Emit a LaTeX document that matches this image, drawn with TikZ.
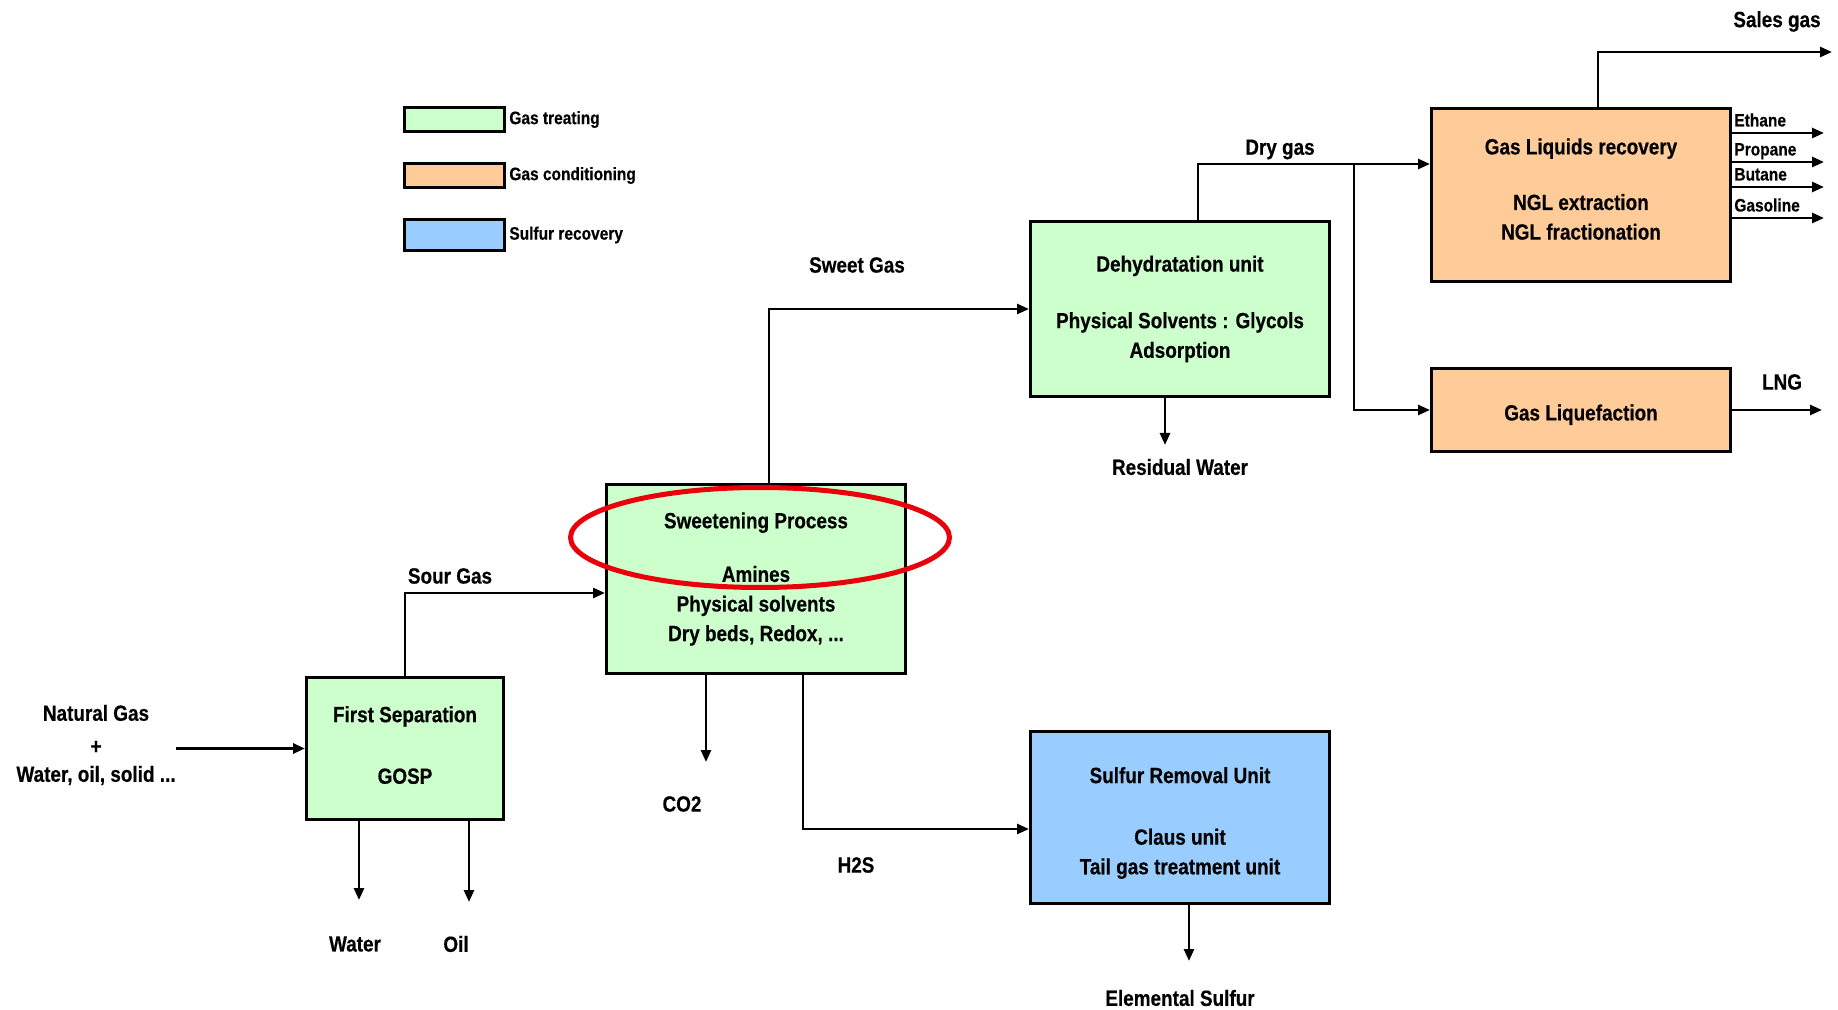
\documentclass[tikz,border=0pt]{standalone}
\usepackage{fontspec}
\setmainfont{Liberation Sans}[FakeStretch=0.86, BoldFeatures={FakeBold=0.4}]
\usetikzlibrary{positioning,arrows.meta,calc}
\definecolor{treatgreen}{HTML}{CCFFCC}
\definecolor{condorange}{HTML}{FFCC99}
\definecolor{sulfurblue}{HTML}{99CCFF}
\definecolor{markred}{HTML}{E8000B}
\newcommand{\upstrut}[1]{\rule{0pt}{#1}}
\newcommand{\downstrut}[1]{\rule[-#1]{0pt}{#1}}

\begin{document}
\begin{tikzpicture}[
      x=0.5pt, y=-0.5pt,
      font=\fontsize{11}{14.8}\selectfont\bfseries,
      unit/.style={draw, line width=1.5pt, minimum width=149.5pt, align=center,
                   inner sep=0pt},
      legbox/.style={draw, line width=1.5pt, minimum width=50pt, minimum height=12pt,
                     inner sep=0pt},
      legtext/.style={font=\fontsize{9}{11}\selectfont\bfseries, inner sep=0pt, anchor=west},
      lbl/.style={inner sep=0pt, align=center},
      flow/.style={draw, line width=1.3pt, -{Triangle[length=6pt,width=5pt]}},
      hilite/.style={draw=markred, line width=2.5pt},
    ]
    \useasboundingbox (0,0) rectangle (1838,1010);

    % legend
    \node[legbox, fill=treatgreen] (legtreat) at (454.5,119.5) {};
    \node[legbox, fill=condorange] (legcond) at (454.5,175.5) {};
    \node[legbox, fill=sulfurblue, minimum height=15.5pt] (legsulf) at (454.5,235) {};
    \node[legtext, right=1.5pt of legtreat] {Gas treating};
    \node[legtext, right=1.5pt of legcond] {Gas conditioning};
    \node[legtext, right=1.5pt of legsulf] {Sulfur recovery};

    % process units
    \node[unit, fill=treatgreen, minimum width=98.5pt, minimum height=71pt] (sep)
      at (405,748.5) {First Separation\\[16pt]GOSP\downstrut{3.5pt}};
    \node[unit, fill=treatgreen, minimum height=94.5pt] (sweet) at (756,579)
      {Sweetening Process\\[12pt]Amines\\Physical solvents\\Dry beds, Redox, ...};
    \node[unit, fill=treatgreen, minimum height=87.5pt] (dehy) at (1180,309)
      {Dehydratation unit\\[13.5pt]Physical Solvents : Glycols\\Adsorption};
    \node[unit, fill=condorange, minimum height=86.5pt] (glr) at (1581,195)
      {Gas Liquids recovery\\[13pt]NGL extraction\\NGL fractionation\downstrut{6pt}};
    \node[unit, fill=condorange, minimum height=41.5pt] (liq) at (1581,410)
      {\upstrut{12.7pt}Gas Liquefaction};
    \node[unit, fill=sulfurblue, minimum height=86pt] (sru) at (1180,817.5)
      {\upstrut{13.5pt}Sulfur Removal Unit\\[16pt]Claus unit\\Tail gas treatment unit};

    % feed
    \node[lbl] (ng) at (96,745) {Natural Gas\\[1.7pt]+\\[-0.8pt]Water, oil, solid ...};

    % free ends
    \coordinate (watend) at (359,900);
    \coordinate (oilend) at (469,902);
    \coordinate (co2end) at (706,762);
    \coordinate (rwend) at (1165,445);
    \coordinate (sulfend) at (1189,961);
    \coordinate (split) at (1354,164);
    \coordinate (salesend) at (1832,52);
    \coordinate (lngend) at (1822,410);

    % streams
    \draw[flow, line width=1.6pt] (ng.east |- sep.west) -- (sep.west);
    \draw[flow] ([xshift=-23pt]sep.south) -- (watend);
    \draw[flow] ([xshift=32pt]sep.south) -- (oilend);
    \draw[flow] (sep.north) |- ([yshift=-7pt]sweet.west);
    \draw[flow] ([xshift=6.5pt]sweet.north) |- (dehy.west);
    \draw[flow] ([xshift=-25pt]sweet.south) -- (co2end);
    \draw[flow] ([xshift=23.5pt]sweet.south) |- ([yshift=-5.75pt]sru.west);
    \draw[flow] ([xshift=4.5pt]sru.south) -- (sulfend);
    \draw[flow] ([xshift=-7.5pt]dehy.south) -- (rwend);
    \draw[flow] ([xshift=9pt]dehy.north) |- ([yshift=15.5pt]glr.west);
    \draw[flow] (split) |- (liq.west);
    \draw[flow] ([xshift=8.5pt]glr.north) |- (salesend);
    \draw[flow] (liq.east) -- (lngend);
    \foreach \py/\prod in {133/Ethane,162/Propane,187/Butane,218/Gasoline}{
      \coordinate (out\prod) at (1824,\py);
      \draw[flow] (glr.east |- out\prod) -- (out\prod);
      \node[legtext, anchor=base west] at (1734,\py-6.5) {\prod};
    }

    % stream labels
    \node[lbl] (sourlbl) at (450,576) {Sour Gas};
    \node[lbl] (sweetlbl) at (857,265) {Sweet Gas};
    \node[lbl] (co2lbl) at (682,804) {CO2};
    \node[lbl] (h2slbl) at (856,865) {H2S};
    \node[lbl] (watlbl) at (355,944) {Water};
    \node[lbl] (oillbl) at (456,944) {Oil};
    \node[lbl] (rwlbl) at (1180,467) {Residual Water};
    \node[lbl] (sulflbl) at (1180,998) {Elemental Sulfur};
    \node[lbl] (drylbl) at (1280,149.5) {Dry gas};
    \node[lbl] (saleslbl) at (1777,21.5) {Sales gas};
    \node[lbl] (lnglbl) at (1782,382) {LNG};

    % highlight
    \draw[hilite] ([xshift=2pt,yshift=20.75pt]sweet.center)
      ellipse [x radius=94.75pt, y radius=25pt];
  \end{tikzpicture}
\end{document}
